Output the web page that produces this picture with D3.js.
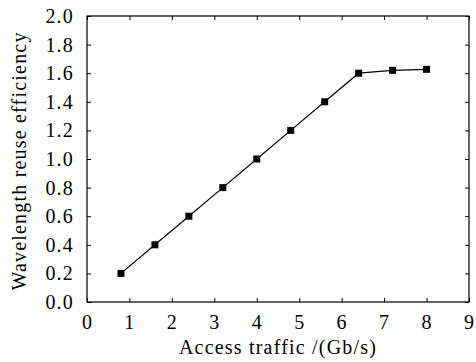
<!DOCTYPE html>
<html>
<head>
<meta charset="utf-8">
<script src="https://cdn.jsdelivr.net/npm/d3@7"></script>
<style>
  body { margin: 0; background: #fff; }
  text { font-family: "Liberation Serif", "Times New Roman", serif; fill: #000; letter-spacing: 1.2px; }
</style>
</head>
<body>
<svg id="chart" width="476" height="362"></svg>
<script>
// traffic in Gb/s, efficiency values
const traffic    = [0.8, 1.6, 2.4, 3.2, 4.0, 4.8, 5.6, 6.4, 7.2, 8.0];
const efficiency = [0.2, 0.4, 0.6, 0.8, 1.0, 1.2, 1.4, 1.6, 1.62, 1.627];
const xTicks = [0, 1, 2, 3, 4, 5, 6, 7, 8, 9];
const yTicks = [0, 0.2, 0.4, 0.6, 0.8, 1.0, 1.2, 1.4, 1.6, 1.8, 2.0];

const data = traffic.map((t, i) => ({ x: t, y: efficiency[i] }));

const margin = {top: 16, right: 7, bottom: 60, left: 87};
const width  = 476 - margin.left - margin.right;
const height = 362 - margin.top - margin.bottom;

const svg = d3.select('#chart')
  .append('g')
    .attr('transform', `translate(${margin.left},${margin.top})`);

const x = d3.scaleLinear().domain([0, 9]).range([0, width]);
const y = d3.scaleLinear().domain([0, 2]).range([height, 0]);

// Axes, ticks pointing inward
const styleAxis = g => {
  g.attr('font-family', null);
  g.select('.domain').remove();
  g.selectAll('line').attr('stroke', '#000').attr('stroke-width', 1);
};

svg.append('g')
   .attr('transform', `translate(0,${height})`)
   .call(d3.axisBottom(x).tickValues(xTicks).tickSizeInner(-4).tickSizeOuter(0).tickPadding(13).tickFormat(d3.format('d')))
   .call(styleAxis)
   .selectAll('text').attr('font-size', '20px');

svg.append('g')
   .call(d3.axisLeft(y).tickValues(yTicks).tickSizeInner(-4).tickSizeOuter(0).tickPadding(13).tickFormat(d3.format('.1f')))
   .call(styleAxis)
   .selectAll('text').attr('font-size', '20px');

svg.append('g')
   .call(d3.axisTop(x).tickValues(xTicks).tickSizeInner(-4).tickSizeOuter(0).tickFormat(''))
   .call(styleAxis);

svg.append('g')
   .attr('transform', `translate(${width},0)`)
   .call(d3.axisRight(y).tickValues(yTicks).tickSizeInner(-4).tickSizeOuter(0).tickFormat(''))
   .call(styleAxis);

// Frame
svg.append('rect')
   .attr('width', width).attr('height', height)
   .attr('fill', 'none').attr('stroke', '#000').attr('stroke-width', 1.2);

// Line
const line = d3.line().x(d => x(d.x)).y(d => y(d.y));
svg.append('path')
   .datum(data)
   .attr('fill', 'none')
   .attr('stroke', '#000')
   .attr('stroke-width', 1.2)
   .attr('d', line);

// Markers
svg.selectAll('rect.pt')
  .data(data)
  .enter().append('rect')
    .attr('class', 'pt')
    .attr('x', d => x(d.x) - 3.5)
    .attr('y', d => y(d.y) - 3.5)
    .attr('width', 7).attr('height', 7)
    .attr('fill', '#000');

// Axis titles
svg.append('text')
   .attr('x', width / 2).attr('y', height + 52)
   .attr('text-anchor', 'middle')
   .attr('font-size', '20px')
   .text('Access traffic /(Gb/s)');

svg.append('text')
   .attr('transform', `translate(${-61},${height / 2 + 2}) rotate(-90)`)
   .attr('text-anchor', 'middle')
   .attr('font-size', '20px')
   .text('Wavelength reuse efficiency');
</script>
</body>
</html>
